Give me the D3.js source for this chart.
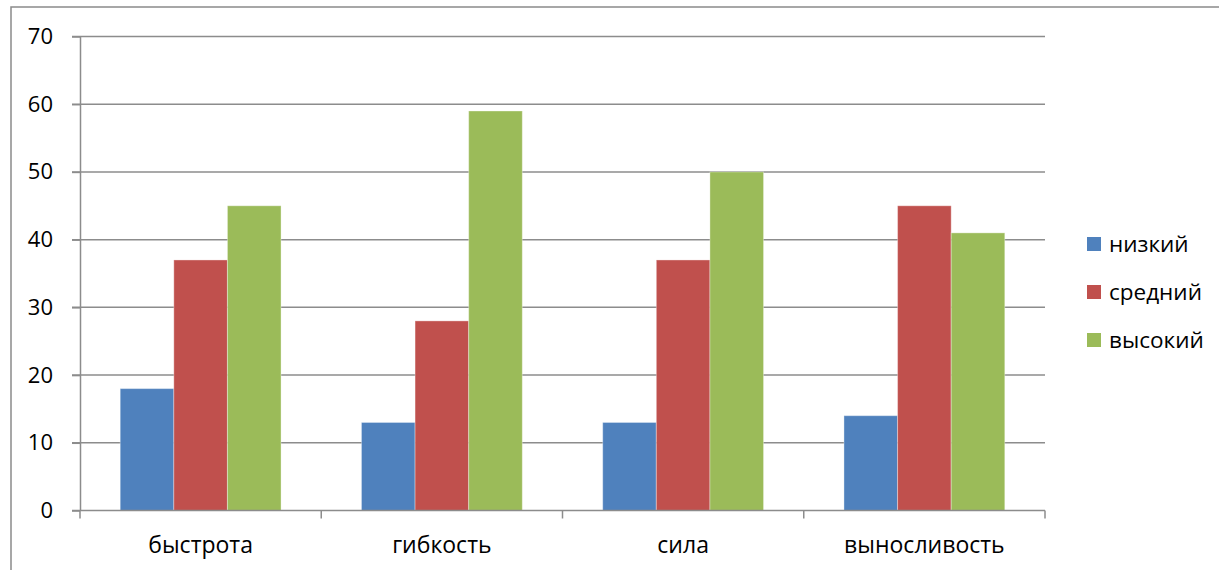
<!DOCTYPE html>
<html>
<head>
<meta charset="utf-8">
<script src="https://cdn.jsdelivr.net/npm/d3@7"></script>
<style>
  html, body { margin: 0; padding: 0; background: #fff; }
  svg { display: block; }
  text { font-family: "Open Sans", sans-serif; fill: #000; }
</style>
</head>
<body>
<svg id="chart" width="1219" height="570"></svg>
<script>
// Fitness levels per quality (percent of group)
const categories = ["быстрота", "гибкость", "сила", "выносливость"];
const seriesNames = ["низкий", "средний", "высокий"];
const lowValues = [18, 13, 13, 14];
const midValues = [37, 28, 37, 45];
const highValues = [45, 59, 50, 41];
const yTicks = [0, 10, 20, 30, 40, 50, 60, 70];
const seriesColors = ["#4F81BD", "#C0504D", "#9BBB59"];

const seriesValues = [lowValues, midValues, highValues];
const rows = categories.map((c, i) => ({
  category: c,
  values: seriesNames.map((s, j) => ({ series: s, value: seriesValues[j][i], idx: j }))
}));

const svg = d3.select("#chart");
const plot = { left: 80, right: 1045, top: 36.5, bottom: 510.5 };

// Outer chart frame (extends past the viewport on the right and bottom)
svg.append("rect")
  .attr("x", 11).attr("y", 7)
  .attr("width", 1300).attr("height", 700)
  .attr("fill", "none").attr("stroke", "#8a8a8a").attr("stroke-width", 1.5);

const x0 = d3.scaleBand().domain(categories).range([plot.left, plot.right]).padding(0);
const x1 = d3.scaleBand().domain(seriesNames).range([0, x0.bandwidth()])
  .paddingInner(0).paddingOuter(0.75);
const y = d3.scaleLinear().domain([0, 70]).range([plot.bottom, plot.top]);
const color = d3.scaleOrdinal().domain(seriesNames).range(seriesColors);

// Horizontal gridlines
svg.append("g").selectAll("line").data(yTicks.filter(t => t > 0)).join("line")
  .attr("x1", plot.left - 8).attr("x2", plot.right)
  .attr("y1", d => y(d)).attr("y2", d => y(d))
  .attr("stroke", "#8c8c8c").attr("stroke-width", 1.5);

// Bars
const groups = svg.append("g").selectAll("g").data(rows).join("g")
  .attr("transform", d => `translate(${x0(d.category)},0)`);
groups.selectAll("rect").data(d => d.values).join("rect")
  .attr("x", d => x1(d.series))
  .attr("width", x1.bandwidth())
  .attr("y", d => y(d.value))
  .attr("height", d => y(0) - y(d.value))
  .attr("fill", d => color(d.series))
  .attr("stroke", "rgba(255,255,255,0.35)")
  .attr("stroke-width", 1);

// Y axis
const yAxis = svg.append("g")
  .attr("transform", `translate(${plot.left},0)`)
  .call(d3.axisLeft(y).tickValues(yTicks).tickSize(8).tickPadding(19).tickSizeOuter(0));
yAxis.select(".domain").attr("stroke", "#8c8c8c").attr("stroke-width", 1.5);
yAxis.selectAll(".tick line").attr("stroke", "#8c8c8c").attr("stroke-width", 1.5);
yAxis.selectAll(".tick text")
  .style("font-family", "'Open Sans', sans-serif")
  .style("font-size", "22px").attr("fill", "#000");

// X axis: baseline with ticks between categories
const xAxisG = svg.append("g");
xAxisG.append("line")
  .attr("x1", plot.left - 8).attr("x2", plot.right)
  .attr("y1", y(0)).attr("y2", y(0))
  .attr("stroke", "#8c8c8c").attr("stroke-width", 1.5);
const boundaries = categories.map(c => x0(c)).concat([x0(categories[categories.length - 1]) + x0.bandwidth()]);
xAxisG.selectAll("line.tk").data(boundaries).join("line").attr("class", "tk")
  .attr("x1", d => d).attr("x2", d => d)
  .attr("y1", y(0)).attr("y2", y(0) + 8)
  .attr("stroke", "#8c8c8c").attr("stroke-width", 1.5);
xAxisG.selectAll("text").data(categories).join("text")
  .attr("x", d => x0(d) + x0.bandwidth() / 2)
  .attr("y", 553)
  .attr("text-anchor", "middle")
  .style("font-size", "23px")
  .text(d => d);

// Legend
const legend = svg.append("g").attr("transform", "translate(1087,244)");
const items = legend.selectAll("g").data(seriesNames).join("g")
  .attr("transform", (d, i) => `translate(0,${i * 48})`);
items.append("rect")
  .attr("x", 0).attr("y", -7).attr("width", 14).attr("height", 14)
  .attr("fill", d => color(d));
items.append("text")
  .attr("x", 22).attr("y", 0).attr("dy", "0.35em")
  .style("font-size", "22.5px")
  .text(d => d);
</script>
</body>
</html>
